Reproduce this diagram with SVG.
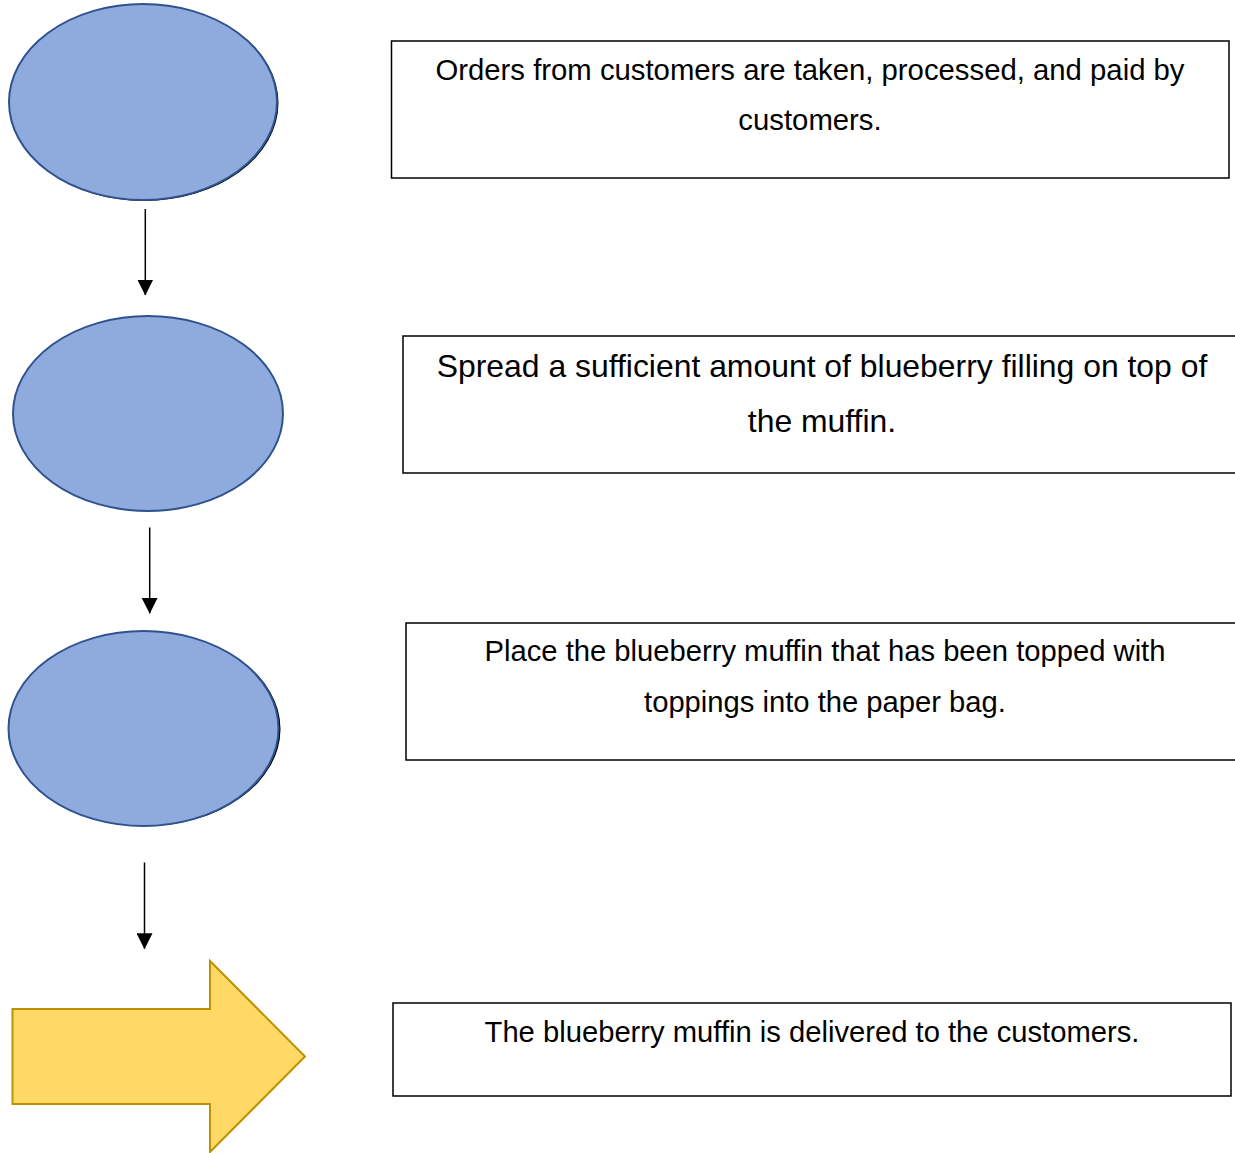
<svg xmlns="http://www.w3.org/2000/svg" width="1235" height="1153" viewBox="0 0 1235 1153">
  <style>
    .step { fill: #8FAADC; stroke: #2F528F; stroke-width: 2; }
    .shadow { fill: #000000; }
    .box { fill: #FFFFFF; stroke: #000000; stroke-width: 1.5; }
    .label { font-family: "Liberation Sans", Arial, sans-serif; fill: #000000; text-anchor: middle; }
    .conn { stroke: #000000; stroke-width: 1.5; fill: none; marker-end: url(#head); }
    .finish { fill: #FED966; stroke: #BF9000; stroke-width: 2; }
  </style>
  <defs>
    <!-- solid triangular arrowhead, tip at the end of the line -->
    <marker id="head" markerUnits="userSpaceOnUse" markerWidth="16" markerHeight="16" refX="15.5" refY="8" orient="auto" viewBox="0 0 16 16">
      <path d="M0,0 L16,8 L0,16 Z" fill="#000000"/>
    </marker>
  </defs>

  <!-- Process steps on the left -->
  <g id="step1">
    <ellipse class="shadow" cx="144" cy="103" rx="134.5" ry="98"/>
    <ellipse class="step" cx="143" cy="102" rx="134" ry="98"/>
  </g>
  <g id="step2">
    <ellipse class="step" cx="148" cy="413.5" rx="135" ry="97.5"/>
  </g>
  <g id="step3">
    <ellipse class="shadow" cx="145.5" cy="729" rx="135" ry="97"/>
    <ellipse class="step" cx="143.5" cy="728.5" rx="135" ry="97.5"/>
  </g>
  <g id="finish">
    <polygon class="finish" points="12.5,1009 210,1009 210,961 305,1056.5 210,1152 210,1104 12.5,1104"/>
  </g>

  <!-- Descriptions on the right -->
  <g id="desc1">
    <rect class="box" x="391.5" y="41" width="837.5" height="137"/>
    <text class="label" x="810" y="79.5" font-size="29.3">Orders from customers are taken, processed, and paid by</text>
    <text class="label" x="810" y="129.5" font-size="29.3">customers.</text>
  </g>
  <g id="desc2">
    <rect class="box" x="403" y="336" width="840" height="137"/>
    <text class="label" x="822" y="377" font-size="31.9">Spread a sufficient amount of blueberry filling on top of</text>
    <text class="label" x="822" y="432" font-size="31.9">the muffin.</text>
  </g>
  <g id="desc3">
    <rect class="box" x="406" y="623" width="840" height="137"/>
    <text class="label" x="825" y="661" font-size="29.2">Place the blueberry muffin that has been topped with</text>
    <text class="label" x="825" y="712" font-size="29.2">toppings into the paper bag.</text>
  </g>
  <g id="desc4">
    <rect class="box" x="393" y="1003" width="838" height="93"/>
    <text class="label" x="812" y="1042" font-size="29.2">The blueberry muffin is delivered to the customers.</text>
  </g>

  <!-- Connectors between steps -->
  <g id="connectors">
    <line class="conn" x1="145.3" y1="209" x2="145.3" y2="295"/>
    <line class="conn" x1="149.7" y1="527.5" x2="149.7" y2="613.3"/>
    <line class="conn" x1="144.5" y1="862.5" x2="144.5" y2="948.7"/>
  </g>
</svg>
